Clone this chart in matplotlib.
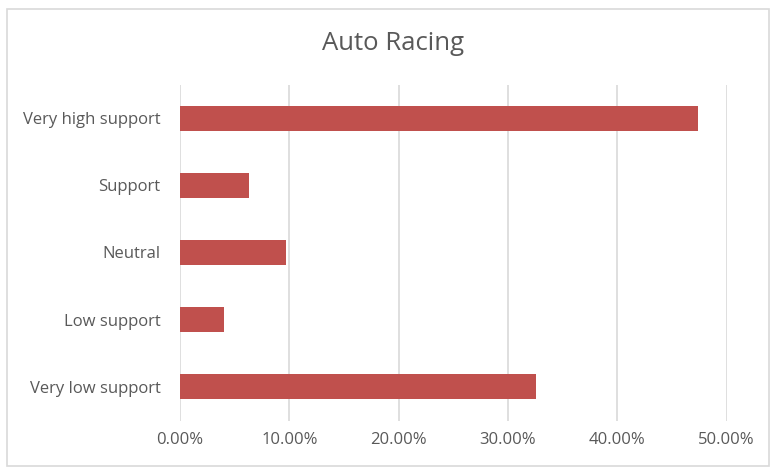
import matplotlib
matplotlib.use("Agg")
import matplotlib.pyplot as plt
from matplotlib.patches import Rectangle
from matplotlib.ticker import FuncFormatter, MultipleLocator

categories = ["Very high support", "Support", "Neutral", "Low support", "Very low support"]
values = [0.474, 0.0635, 0.0967, 0.040, 0.3254]
title = "Auto Racing"

plt.rcParams['font.family'] = ['Open Sans', 'DejaVu Sans']
text_color = "#595959"
bar_color = "#C0504D"
grid_color = "#D9D9D9"

fig = plt.figure(figsize=(7.72, 4.70), dpi=100)
ax = fig.add_axes([180/772, 1-420.5/470, (726.5-180)/772, 336/470])

ypos = list(range(len(categories)))[::-1]
ax.barh(ypos, values, height=0.37, color=bar_color, zorder=3)
ax.set_ylim(-0.5, len(categories)-0.5)
ax.set_xlim(0, 0.5)
ax.set_yticks(ypos)
ax.set_yticklabels(categories)
ax.xaxis.set_major_locator(MultipleLocator(0.1))
ax.xaxis.set_major_formatter(FuncFormatter(lambda v, p: f"{v*100:.2f}%"))
ax.grid(axis='x', color=grid_color, linewidth=1.2, zorder=0)
for s in ax.spines.values():
    s.set_visible(False)
ax.tick_params(axis='both', length=0, colors=text_color, labelsize=12)
ax.tick_params(axis='y', pad=14)
ax.tick_params(axis='x', pad=8)

fig.text(393/772, 1-43/470, title, ha='center', va='center', fontsize=18.5, color=text_color)
fig.patches.append(Rectangle((7/772, 4/470), 762/772, 457/470, transform=fig.transFigure,
                             fill=False, edgecolor="#D9D9D9", linewidth=1.2))

fig.savefig("out.png", dpi=100)
